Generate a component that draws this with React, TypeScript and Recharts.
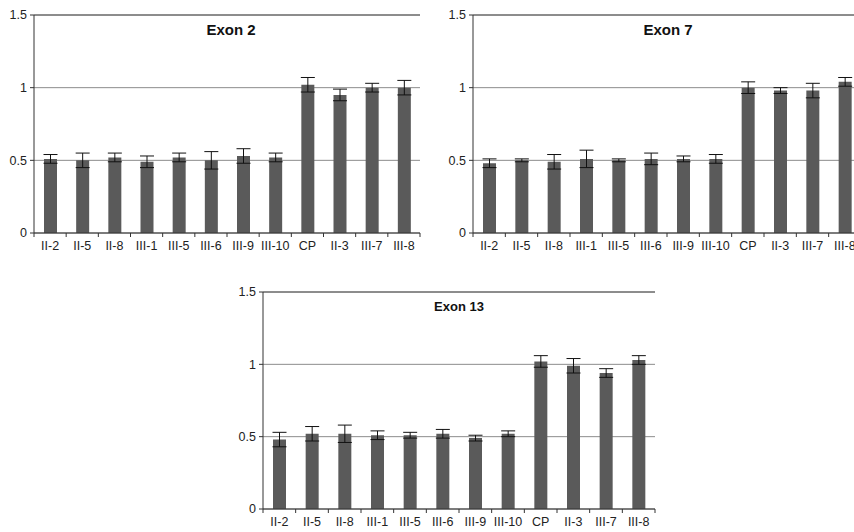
import React from "react";
import { BarChart, Bar, XAxis, YAxis, CartesianGrid, ErrorBar, ReferenceLine } from "recharts";

// Valeurs relatives (dosage génique) par individu, trois exons.
const categories = ["II-2", "II-5", "II-8", "III-1", "III-5", "III-6", "III-9", "III-10", "CP", "II-3", "III-7", "III-8"];

const exon2Values = [0.51, 0.5, 0.52, 0.49, 0.52, 0.5, 0.53, 0.52, 1.02, 0.95, 1.0, 1.0];
const exon2Errors = [0.03, 0.05, 0.03, 0.04, 0.03, 0.06, 0.05, 0.03, 0.05, 0.04, 0.03, 0.05];

const exon7Values = [0.48, 0.5, 0.49, 0.51, 0.5, 0.51, 0.51, 0.51, 1.0, 0.98, 0.98, 1.04];
const exon7Errors = [0.03, 0.01, 0.05, 0.06, 0.01, 0.04, 0.02, 0.03, 0.04, 0.02, 0.05, 0.03];

const exon13Values = [0.48, 0.52, 0.52, 0.51, 0.51, 0.52, 0.49, 0.52, 1.02, 0.99, 0.94, 1.03];
const exon13Errors = [0.05, 0.05, 0.06, 0.03, 0.02, 0.03, 0.02, 0.02, 0.04, 0.05, 0.03, 0.03];

const yTicks = [0, 0.5, 1, 1.5];

const FONT = "'Liberation Sans', Arial, sans-serif";
const BAR = "#5a5a5a";
const AXIS = "#333";

type Row = { name: string; value: number; err: number };

function rows(values: number[], errors: number[]): Row[] {
  return categories.map((name, i) => ({ name, value: values[i], err: errors[i] }));
}

// étiquette + petit trait aux limites des catégories (style Excel)
function CatTick(props: any) {
  const { x, y, payload, index, half, count } = props;
  return (
    <g>
      <line x1={x - half} x2={x - half} y1={y} y2={y + 4} stroke={AXIS} />
      {index === count - 1 && <line x1={x + half} x2={x + half} y1={y} y2={y + 4} stroke={AXIS} />}
      <text x={x} y={y + 17} textAnchor="middle" fontSize={12.5} fill="#222" fontFamily={FONT}>
        {payload.value}
      </text>
    </g>
  );
}

function Panel({ data, left, top, width, height, plotWidth, title, titleX, titleY, titleSize }: {
  data: Row[]; left: number; top: number; width: number; height: number; plotWidth: number;
  title: string; titleX: number; titleY: number; titleSize: number;
}) {
  const half = plotWidth / categories.length / 2;
  return (
    <div style={{ position: "absolute", left, top, width, height }}>
      <BarChart width={width} height={height} data={data}
        margin={{ top: 15, right: width - 34 - plotWidth, bottom: 7, left: 0 }}>
        <CartesianGrid horizontal vertical={false} stroke="#8c8c8c" />
        <ReferenceLine y={1.5} stroke="#555" />
        <XAxis dataKey="name" height={20} axisLine={{ stroke: AXIS }} tickLine={false} tickSize={0}
          tickMargin={0} interval={0}
          tick={<CatTick half={half} count={categories.length} />} />
        <YAxis type="number" domain={[0, 1.5]} ticks={yTicks} width={34} axisLine={{ stroke: AXIS }}
          tickLine={{ stroke: AXIS }} tickSize={4} tickMargin={3}
          tick={{ fontSize: 12.5, fill: "#222", fontFamily: FONT }} />
        <Bar dataKey="value" fill={BAR} barSize={13} isAnimationActive={false}>
          <ErrorBar dataKey="err" width={7} stroke="#111" strokeWidth={1} isAnimationActive={false} />
        </Bar>
      </BarChart>
      <div style={{
        position: "absolute", left: titleX - 60, top: titleY - 10, width: 120, textAlign: "center",
        fontFamily: FONT, fontWeight: "bold", fontSize: titleSize, color: "#111", lineHeight: "20px",
      }}>{title}</div>
    </div>
  );
}

export default function App() {
  return (
    <div style={{ position: "absolute", left: 0, top: 0, width: 854, height: 532, overflow: "hidden", background: "#fff" }}>
      <Panel data={rows(exon2Values, exon2Errors)} left={0} top={0} width={430} height={260} plotWidth={386}
        title="Exon 2" titleX={231} titleY={30} titleSize={15} />
      <Panel data={rows(exon7Values, exon7Errors)} left={439} top={0} width={432} height={260} plotWidth={388}
        title="Exon 7" titleX={229} titleY={30} titleSize={15} />
      <Panel data={rows(exon13Values, exon13Errors)} left={229} top={277} width={436} height={259} plotWidth={392}
        title="Exon 13" titleX={230} titleY={30} titleSize={13} />
    </div>
  );
}
